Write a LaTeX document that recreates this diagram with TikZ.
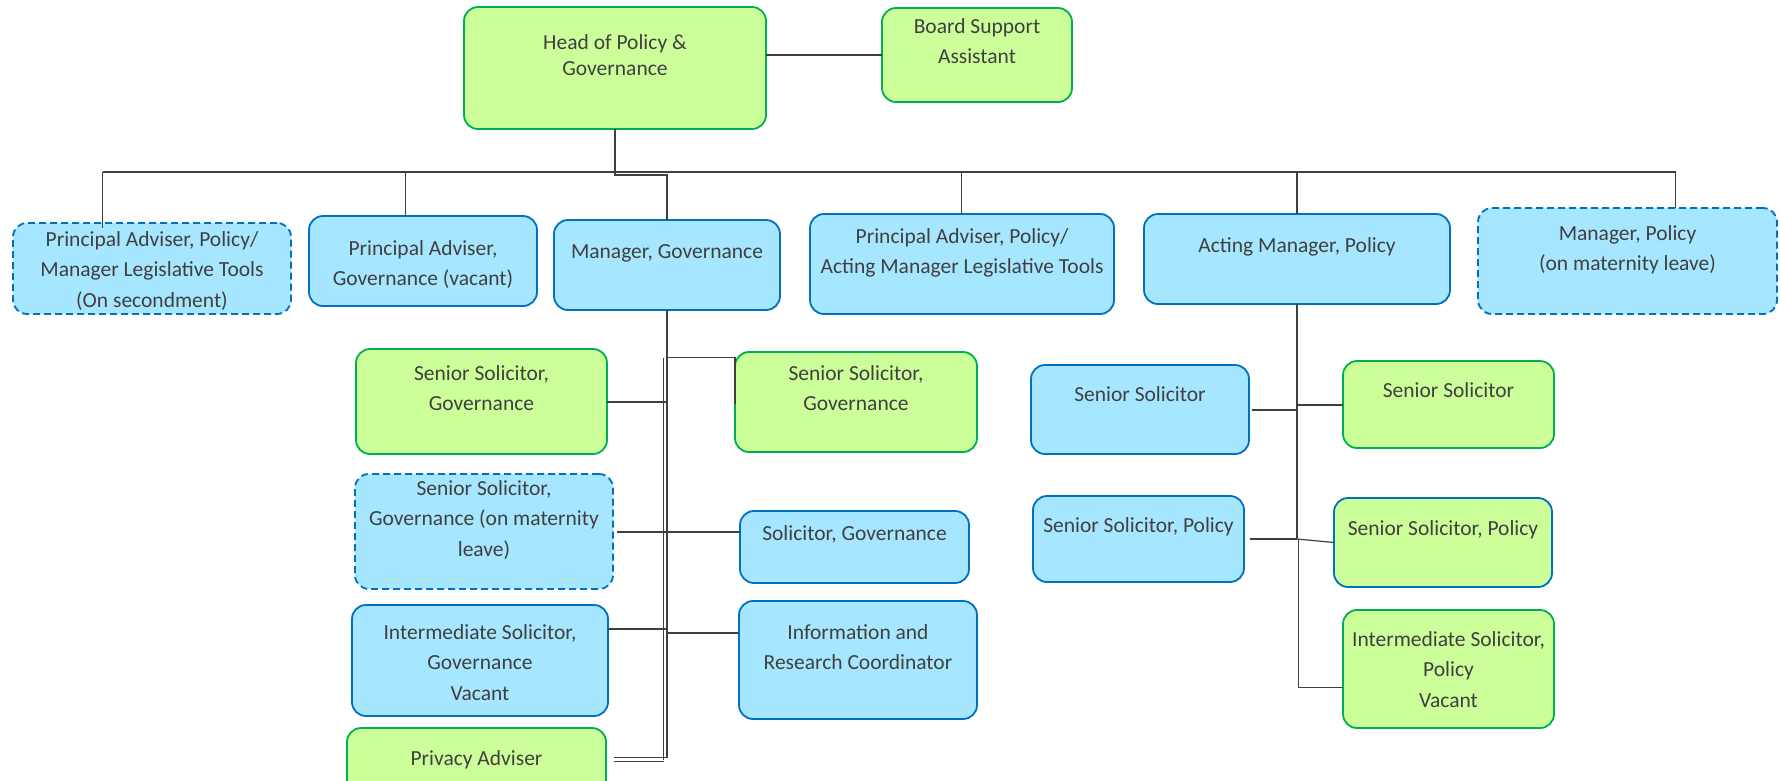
\documentclass[tikz,border=0pt]{standalone}
\usepackage{fontspec}
\setmainfont{Carlito}
\definecolor{gfill}{HTML}{CCFF99}
\definecolor{gline}{HTML}{00B050}
\definecolor{bfill}{HTML}{A6E6FF}
\definecolor{bline}{HTML}{0070C0}
\definecolor{tgray}{HTML}{404040}
\definecolor{lgray}{HTML}{404040}
\newcommand\orgbox[8]{%
  \node[#1, minimum width={#5-#3}, minimum height={#6-#4}] (#2) at ({(#3+#5)/2},{(#4+#6)/2}) {};
  \node[txt, anchor=north] (#2-t) at ({(#3+#5)/2},{#7-14}) {#8};}
\begin{document}
\begin{tikzpicture}[x=1pt,y=-1pt,
  box/.style={rectangle, rounded corners=14pt, line width=1.8pt, inner sep=0pt, outer sep=0pt},
  gbox/.style={box, draw=gline, fill=gfill},
  bbox/.style={box, draw=bline, fill=bfill},
  dbox/.style={bbox, dash pattern=on 7pt off 4pt},
  gbbox/.style={box, draw=bline, fill=gfill},
  txt/.style={align=center, text=tgray, font=\fontsize{21.5}{30.5}\selectfont, inner sep=0pt, execute at begin node=\strut},
  conn/.style={draw=lgray, line width=2pt},
  thin/.style={draw=lgray, line width=1.2pt},
  busline/.style={draw=lgray, line width=2.2pt}]
\useasboundingbox (0,0) rectangle (1780,780);
\clip (0,0) rectangle (1780,780);
\fill[white] (0,0) rectangle (1780,780);

% boxes
\orgbox{gbox}{head}{464}{7}{766}{129}{48}{Head of Policy \&\\[-4.5pt]Governance}
\orgbox{gbox}{board}{882}{8}{1072}{102}{32}{Board Support\\Assistant}
\orgbox{dbox}{pa1}{13}{223}{291}{314}{245}{Principal Adviser, Policy/\\Manager Legislative Tools\\(On secondment)}
\orgbox{bbox}{pa2}{309}{216}{537}{306}{254}{Principal Adviser,\\Governance (vacant)}
\orgbox{bbox}{mg}{554}{220}{780}{310}{251}{Manager, Governance}
\orgbox{bbox}{pa3}{810}{214}{1114}{314}{242}{Principal Adviser, Policy/\\Acting Manager Legislative Tools}
\orgbox{bbox}{amp}{1144}{214}{1450}{304}{245}{Acting Manager, Policy}
\orgbox{dbox}{mp}{1478}{208}{1777}{314}{239}{Manager, Policy\\(on maternity leave)}
\orgbox{gbox}{ssg1}{356}{349}{607}{454}{379}{Senior Solicitor,\\Governance}
\orgbox{gbox}{ssg2}{735}{352}{977}{452}{379}{Senior Solicitor,\\Governance}
\orgbox{dbox}{ssgm}{355}{474}{613}{589}{494}{Senior Solicitor,\\Governance (on maternity\\leave)}
\orgbox{bbox}{sg}{740}{511}{969}{583}{533}{Solicitor, Governance}
\orgbox{bbox}{isg}{352}{605}{608}{716}{638}{Intermediate Solicitor,\\Governance\\Vacant}
\orgbox{bbox}{irc}{739}{601}{977}{719}{638}{Information and\\Research Coordinator}
\orgbox{gbox}{pad}{347}{728}{606}{800}{758}{Privacy Adviser}
\orgbox{bbox}{ss1}{1031}{365}{1249}{454}{394}{Senior Solicitor}
\orgbox{gbox}{ss2}{1343}{361}{1554}{448}{390}{Senior Solicitor}
\orgbox{bbox}{ssp1}{1033}{496}{1244}{582}{525}{Senior Solicitor, Policy}
\orgbox{gbbox}{ssp2}{1334}{498}{1552}{587}{528}{Senior Solicitor, Policy}
\orgbox{gbox}{isp}{1343}{610}{1554}{728}{645}{Intermediate Solicitor,\\Policy\\Vacant}

% top connectors
\draw[conn] (head.east |- board.west) -- (board.west);
\coordinate (busL) at (102.5,172);
\coordinate (busR) at (1675.5,172);
\draw[busline] (busL) -- (busR);
\draw[conn] (head.south) -- ++(0,46) -| (mg.north);
\coordinate (d2) at (405.5,172);
\coordinate (d4) at (961.5,172);
\coordinate (d5) at (1297,172);
\draw[thin] (busL) -- ++(0,56);
\draw[thin] (d2) -- (d2 |- pa2.north);
\draw[thin] (d4) -- (d4 |- pa3.north);
\draw[conn] (d5) -- (d5 |- amp.north);
\draw[thin] (busR) -- (busR |- mp.north);

% Manager, Governance branch
\draw[conn] (mg.south) -- ++(0,448);
\coordinate (t0) at (663.5,358);
\draw[thin] (t0) -- ++(0,402);
\coordinate (t1) at (667,357.5);
\draw[thin] (t1) -- (t1 -| ssg2.west) -- ++(0,46);
\draw[conn] (ssg1.east) -- (ssg1.east -| mg.south);
\draw[conn] ([xshift=4pt]ssgm.east) -- (sg.west |- ssgm.east);
\coordinate (t3) at (667,629);
\draw[conn] (isg.east |- t3) -- (t3);
\coordinate (t4) at (667,633);
\draw[conn] (t4) -- (t4 -| irc.west);
\coordinate (t5) at (667,757.5);
\coordinate (t6) at (663.5,761.5);
\draw[thin] ([xshift=8pt]pad.east |- t5) -- (t5);
\draw[thin] ([xshift=8pt]pad.east |- t6) -- (t6);

% Acting Manager, Policy branch
\draw[conn] (amp.south) -- ++(0,235);
\coordinate (u2) at (1298.5,539);
\coordinate (u3) at (1298.5,687.5);
\draw[thin] (u2) -- (u3) -- (u3 -| isp.west);
\draw[conn] ([xshift=3pt]ss1.east) -- (ss1.east -| amp.south);
\draw[conn] (amp.south |- ss2.west) -- (ss2.west);
\draw[conn] ([xshift=6pt]ssp1.east) -- (ssp1.east -| amp.south);
\draw[thin] (amp.south |- ssp1.east) -- (ssp2.west);
\end{tikzpicture}
\end{document}
